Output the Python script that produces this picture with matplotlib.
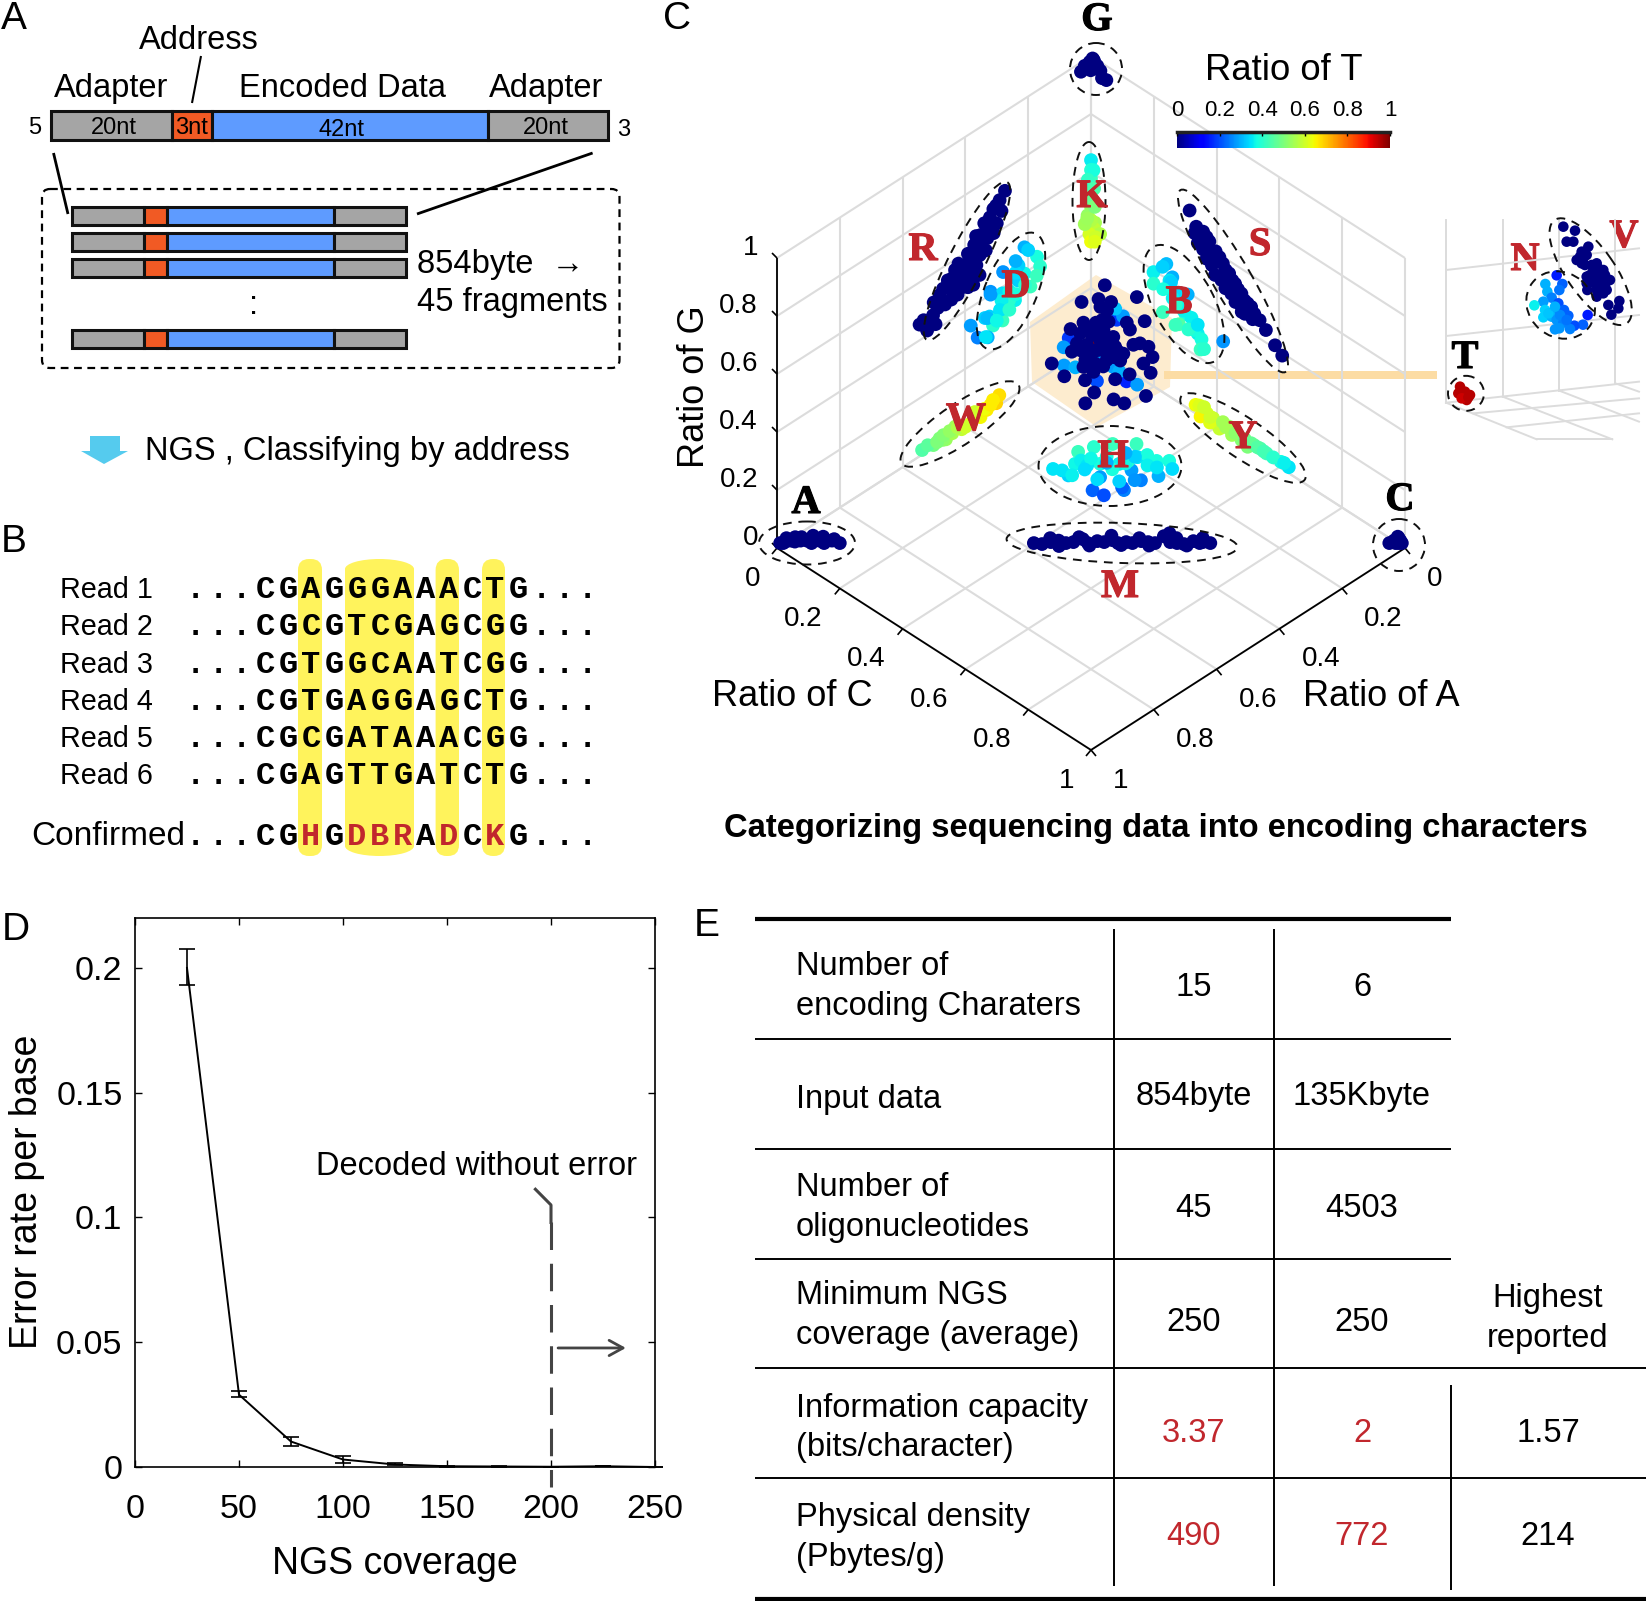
import numpy as np
import matplotlib
matplotlib.use("Agg")
import matplotlib.pyplot as plt
import matplotlib.patheffects as pe
from matplotlib.patches import Ellipse, Polygon, Rectangle, FancyBboxPatch
from matplotlib.cm import ScalarMappable
from matplotlib.colors import Normalize

plt.rcParams["font.family"] = ["Liberation Sans", "DejaVu Sans"]

W, H = 1646, 1601
RED = "#c1272d"
MONO = ["Liberation Mono", "DejaVu Sans Mono"]

# --- PANEL B DATA ---
read_names = ["Read 1", "Read 2", "Read 3", "Read 4", "Read 5", "Read 6"]
reads = ["CGAGGGAAACTG", "CGCGTCGAGCGG", "CGTGGCAATCGG",
         "CGTGAGGAGCTG", "CGCGATAAACGG", "CGAGTTGATCTG"]
confirmed = "CGHGDBRADCKG"
degenerate = "HDBRK"

# --- PANEL D DATA ---
coverage = [25, 50, 75, 100, 125, 150, 175, 200, 225, 250]
error_rate = [0.2, 0.029, 0.0102, 0.003, 0.001, 0.0003, 0.0002, 0.0001, 0.0003, 0.0]
error_low = [0.007, 0.001, 0.0019, 0.0015, 0.0003, 0.0001, 0.0001, 0.0, 0.0, 0.0]
error_high = [0.0076, 0.0015, 0.0018, 0.0015, 0.0005, 0.0001, 0.0003, 0.0, 0.0, 0.0]

# --- PANEL E DATA ---
table_names = [["Number of", "encoding Charaters"], ["Input data"],
               ["Number of", "oligonucleotides"], ["Minimum NGS", "coverage (average)"],
               ["Information capacity", "(bits/character)"], ["Physical density", "(Pbytes/g)"]]
table_col1 = ["15", "854byte", "45", "250", "3.37", "490"]
table_col2 = ["6", "135Kbyte", "4503", "250", "2", "772"]
table_col3 = ["1.57", "214"]

# --- PANEL C DATA: ratio of A, ratio of C, ratio of T for each read (G is the rest) ---
g_a = [0, 0, 0.005, 0.032, 0.015, 0, 0, 0, 0, 0.008, 0.02, 0.005]
g_c = [0.01, 0.007, 0.013, 0, 0.014, 0.03, 0.049, 0.02, 0.005, 0.004, 0, 0.04]

c_a = [0.02, 0, 0, 0, 0.01, 0.01, 0.005, 0]
c_c = [0.97, 0.977, 0.99, 0.98, 0.975, 0.98, 0.985, 0.985]

a_a = [0.99, 0.98, 0.97, 0.965, 0.955, 0.945, 0.94, 0.925, 0.92, 0.905, 0.895,
       0.985, 0.975, 0.96, 0.95, 0.93, 0.915, 0.9]
a_c = [0, 0.007, 0.015, 0.022, 0.03, 0.04, 0.05, 0.06, 0.07, 0.08, 0.095,
       0.005, 0.005, 0.018, 0.028, 0.045, 0.062, 0.082]

m_a = [0.586, 0.574, 0.558, 0.544, 0.535, 0.522, 0.504, 0.5, 0.483, 0.473, 0.458, 0.452, 0.438,
       0.429, 0.413, 0.403, 0.393, 0.36, 0.368, 0.358, 0.348, 0.33, 0.322, 0.316, 0.305,
       0.555, 0.549, 0.508, 0.5, 0.455, 0.449, 0.413, 0.405, 0.372, 0.354, 0.345, 0.312]
m_c = [0.404, 0.418, 0.43, 0.441, 0.455, 0.466, 0.478, 0.49, 0.503, 0.515, 0.526, 0.538, 0.55,
       0.561, 0.573, 0.585, 0.597, 0.61, 0.62, 0.632, 0.644, 0.656, 0.668, 0.672, 0.685,
       0.425, 0.447, 0.47, 0.495, 0.52, 0.545, 0.567, 0.59, 0.604, 0.626, 0.65, 0.668]

w_a = [0.538, 0.502, 0.462, 0.482, 0.442, 0.412, 0.382, 0.352, 0.332, 0.302, 0.292, 0.312, 0.372, 0.432, 0.472,
       0.52, 0.49, 0.47, 0.45, 0.425, 0.4, 0.37, 0.34, 0.32]
w_t = [0.446, 0.49, 0.538, 0.501, 0.551, 0.588, 0.618, 0.648, 0.657, 0.685, 0.674, 0.657, 0.613, 0.545, 0.523,
       0.46, 0.5, 0.51, 0.53, 0.56, 0.6, 0.6, 0.64, 0.66]

y_c = [0.333, 0.369, 0.349, 0.399, 0.409, 0.439, 0.479, 0.519, 0.559, 0.605, 0.63, 0.499, 0.389, 0.539, 0.379, 0.449,
       0.345, 0.36, 0.38, 0.42, 0.43, 0.46, 0.49, 0.51, 0.53, 0.55, 0.58, 0.615]
y_t = [0.638, 0.606, 0.651, 0.59, 0.591, 0.533, 0.511, 0.461, 0.422, 0.373, 0.349, 0.501, 0.589, 0.439, 0.621, 0.545,
       0.62, 0.6, 0.6, 0.55, 0.55, 0.52, 0.49, 0.47, 0.45, 0.43, 0.4, 0.36]

k_a = [0, 0, 0, 0, 0, 0, 0.011, 0, 0, 0, 0.005, 0, 0, 0.02, 0, 0.01, 0, 0.012, 0, 0.012, 0, 0]
k_c = [0, 0, 0, 0, 0, 0, 0, 0.013, 0.009, 0.029, 0, 0, 0, 0, 0.008, 0, 0.01, 0, 0.012, 0, 0.015, 0.012]
k_t = [0.359, 0.393, 0.422, 0.451, 0.485, 0.52, 0.531, 0.553, 0.58, 0.565, 0.606, 0.64, 0.566, 0.546,
       0.38, 0.41, 0.44, 0.47, 0.5, 0.54, 0.6, 0.62]

r_a = [0.274, 0.292, 0.311, 0.325, 0.34, 0.358, 0.378, 0.377, 0.397, 0.42, 0.402, 0.447, 0.429, 0.472, 0.431,
       0.501, 0.484, 0.456, 0.546, 0.515, 0.54, 0.535, 0.366, 0.422, 0.456, 0.434, 0.368, 0.303, 0.34,
       0.3, 0.32, 0.335, 0.35, 0.365, 0.38, 0.395, 0.41, 0.425, 0.44, 0.455, 0.47, 0.485,
       0.36, 0.385, 0.405, 0.43, 0.445, 0.46, 0.33, 0.35, 0.375, 0.4, 0.42, 0.5, 0.52]
r_c = [0, 0.001, 0, 0.003, 0.008, 0.006, 0.006, 0.025, 0.005, 0.008, 0.02, 0.005, 0.017, 0.001, 0.039,
       0, 0.002, 0.013, 0, 0.012, 0.018, 0.002, 0, 0, 0, 0.001, 0.006, 0.001, 0,
       0.015, 0.02, 0.025, 0.02, 0.03, 0.025, 0.03, 0.03, 0.035, 0.03, 0.03, 0.025, 0.02,
       0.012, 0.015, 0.015, 0.018, 0.015, 0.015, 0.012, 0.012, 0.012, 0.045, 0.045, 0.012, 0.025]

s_a = [0, 0.006, 0, 0, 0, 0.001, 0.01, 0.001, 0.002, 0.002, 0.002, 0.002, 0.017, 0, 0, 0.001, 0,
       0, 0, 0.003, 0.003, 0.003, 0.004, 0, 0.006,
       0.015, 0.02, 0.018, 0.022, 0.02, 0.025, 0.02, 0.022, 0.018, 0.02, 0.015, 0.012, 0.01, 0.015, 0.012, 0.02]
s_c = [0.314, 0.341, 0.357, 0.377, 0.397, 0.421, 0.399, 0.441, 0.461, 0.481, 0.501, 0.522, 0.507, 0.537, 0.557, 0.587, 0.609,
       0.368, 0.409, 0.432, 0.453, 0.471, 0.493, 0.51, 0.355,
       0.345, 0.36, 0.375, 0.39, 0.405, 0.42, 0.435, 0.45, 0.465, 0.48, 0.495, 0.51, 0.525, 0.385, 0.44, 0.5]

d_a = [0.212, 0.28, 0.178, 0.177, 0.207, 0.32, 0.275, 0.263, 0.329, 0.299, 0.383, 0.312, 0.286,
       0.393, 0.362, 0.247, 0.282, 0.218, 0.284, 0.231, 0.338, 0.261, 0.186, 0.285, 0.32,
       0.24, 0.26, 0.3, 0.34, 0.22, 0.2, 0.25, 0.31, 0.35, 0.27, 0.24]
d_c = [0, 0, 0.006, 0.015, 0.014, 0, 0.013, 0.021, 0.006, 0.007, 0, 0, 0.004,
       0.032, 0.033, 0.015, 0, 0.006, 0.011, 0, 0, 0, 0.013, 0, 0,
       0, 0, 0.01, 0.01, 0.01, 0, 0.01, 0.01, 0.015, 0.01, 0]
d_t = [0.3, 0.27, 0.38, 0.4, 0.42, 0.27, 0.33, 0.36, 0.33, 0.38, 0.28, 0.4, 0.42,
       0.25, 0.3, 0.33, 0.34, 0.37, 0.37, 0.33, 0.33, 0.4, 0.42, 0.36, 0.28,
       0.34, 0.37, 0.35, 0.31, 0.4, 0.33, 0.38, 0.37, 0.35, 0.4, 0.3]

b_a = [0, 0.014, 0.014, 0.007, 0.003, 0.004, 0, 0, 0.022, 0, 0.015, 0, 0.006, 0, 0, 0, 0.013, 0, 0, 0.002,
       0, 0.005, 0.01, 0, 0.005, 0, 0, 0.005, 0.01, 0, 0]
b_c = [0.24, 0.213, 0.213, 0.266, 0.231, 0.284, 0.308, 0.301, 0.251, 0.28, 0.284, 0.33, 0.346, 0.352,
       0.349, 0.421, 0.303, 0.25, 0.281, 0.331,
       0.25, 0.26, 0.27, 0.29, 0.3, 0.32, 0.27, 0.315, 0.24, 0.34, 0.36]
b_t = [0.31, 0.36, 0.4, 0.3, 0.33, 0.33, 0.3, 0.38, 0.42, 0.45, 0.42, 0.38, 0.36, 0.38, 0.42, 0.27, 0.33, 0.36, 0.34, 0.38,
       0.35, 0.33, 0.36, 0.37, 0.36, 0.36, 0.4, 0.4, 0.38, 0.35, 0.4]

h_a = [0.377, 0.365, 0.331, 0.364, 0.299, 0.275, 0.236, 0.198, 0.321, 0.288, 0.264, 0.23, 0.204, 0.195,
       0.175, 0.19, 0.231, 0.331, 0.274, 0.278, 0.282, 0.374, 0.367, 0.315, 0.324, 0.319, 0.274, 0.234,
       0.3, 0.27, 0.25, 0.35, 0.32, 0.22, 0.29, 0.33, 0.24, 0.3, 0.26, 0.21]
h_c = [0.256, 0.293, 0.28, 0.272, 0.258, 0.284, 0.305, 0.343, 0.289, 0.317, 0.353, 0.379, 0.383, 0.404,
       0.424, 0.449, 0.446, 0.36, 0.403, 0.437, 0.421, 0.379, 0.408, 0.42, 0.423, 0.307, 0.342, 0.353,
       0.3, 0.32, 0.36, 0.29, 0.34, 0.4, 0.38, 0.31, 0.38, 0.35, 0.37, 0.42]
h_t = [0.35, 0.33, 0.37, 0.35, 0.42, 0.4, 0.42, 0.42, 0.36, 0.38, 0.36, 0.35, 0.38, 0.38,
       0.38, 0.34, 0.3, 0.28, 0.28, 0.25, 0.27, 0.22, 0.2, 0.25, 0.22, 0.35, 0.38, 0.4,
       0.37, 0.38, 0.37, 0.36, 0.34, 0.36, 0.33, 0.34, 0.33, 0.3, 0.3, 0.35]

n_a = [0.269, 0.257, 0.275, 0.174, 0.131, 0.124, 0.262, 0.227, 0.178, 0.198, 0.184, 0.214, 0.253, 0.187]
n_c = [0.198, 0.17, 0.189, 0.256, 0.233, 0.201, 0.281, 0.34, 0.325, 0.269, 0.176, 0.243, 0.203, 0.277]
n_t = [0.18, 0.28, 0.28, 0.18, 0.28, 0.32, 0.2, 0.16, 0.28, 0.28, 0.33, 0.28, 0.3, 0.3]

v_a = [0.211, 0.265, 0.235, 0.218, 0.172, 0.24, 0.233, 0.184, 0.283, 0.263, 0.242, 0.214, 0.216, 0.31, 0.299, 0.282,
       0.259, 0.25, 0.257, 0.274, 0.3, 0.331, 0.316, 0.31, 0.29, 0.272, 0.263, 0.226, 0.214, 0.204, 0.208, 0.229,
       0.227, 0.375, 0.368, 0.328, 0.317, 0.339, 0.29, 0.262, 0.337, 0.362, 0.313, 0.3, 0.258, 0.284, 0.27, 0.257,
       0.251, 0.278, 0.318, 0.284, 0.261, 0.251, 0.3145, 0.262, 0.306, 0.296]
v_c = [0.255, 0.235, 0.259, 0.282, 0.318, 0.27, 0.284, 0.355, 0.259, 0.279, 0.298, 0.328, 0.34, 0.245, 0.265, 0.285,
       0.299, 0.321, 0.334, 0.303, 0.287, 0.27, 0.282, 0.302, 0.308, 0.333, 0.356, 0.361, 0.37, 0.387, 0.404, 0.396,
       0.417, 0.25, 0.283, 0.304, 0.325, 0.32, 0.367, 0.385, 0.347, 0.344, 0.385, 0.406, 0.433, 0.334, 0.342, 0.344,
       0.286, 0.276, 0.3, 0.313, 0.327, 0.354, 0.2697, 0.312, 0.319, 0.335]

t_a = [0, 0.005, 0]
t_c = [0.005, 0.005, 0.01]
t_t = [0.98, 0.98, 0.97]

# inset view of N, V and T, read in the inset's own view units
inset_v_x = [400, 435, 410, 430, 475, 455, 470, 440, 455, 500, 490, 470, 520, 510, 540, 495, 480, 525, 472, 500,
             520, 535, 568, 565, 544, 505, 460, 490, 450, 465, 485, 505, 525, 480, 495, 515, 530, 470, 510, 500]
inset_v_y = [80, 92, 125, 125, 140, 155, 165, 180, 190, 190, 210, 230, 210, 235, 240, 250, 225, 255, 270, 290,
             280, 315, 303, 325, 344, 265, 175, 240, 170, 195, 195, 205, 225, 245, 225, 250, 270, 250, 215, 270]
inset_n_x = [380, 397, 346, 352, 388, 365, 340, 385, 313, 345, 370, 402, 340, 365, 415, 380, 400, 473, 459, 433, 420, 375, 388,
             355, 390, 375, 410]
inset_n_y = [226, 252, 252, 275, 270, 293, 305, 310, 316, 330, 335, 330, 352, 350, 347, 360, 368, 345, 374, 377, 387, 388, 385,
             340, 345, 320, 360]
inset_n_t = [0.15, 0.22, 0.3, 0.3, 0.24, 0.25, 0.28, 0.2, 0.36, 0.33, 0.27, 0.22, 0.33, 0.3, 0.22, 0.27, 0.25, 0.15, 0.22, 0.2, 0.25, 0.27, 0.27,
             0.32, 0.26, 0.3, 0.24]
inset_t_x = [90, 85, 100, 120, 110, 92, 105, 95, 115]
inset_t_y = [560, 580, 590, 585, 600, 575, 575, 595, 592]
inset_t_t = [0.95, 0.95, 0.95, 0.95, 0.95, 0.95, 0.95, 0.93, 0.95]

fig = plt.figure(figsize=(W / 100, H / 100), dpi=100)
ax = fig.add_axes([0, 0, 1, 1])
ax.set_xlim(0, W)
ax.set_ylim(H, 0)
ax.axis("off")


def txt(x, y, s, size=23.5, ha="center", va="center", **kw):
    # text sits a little low in the reference, hence the small nudge
    return ax.text(x, y + 2.5, s, fontsize=size, ha=ha, va=va, **kw)


def seg(xs, ys, color="black", lw=1.5, **kw):
    ax.plot(xs, ys, color=color, lw=lw, solid_capstyle="butt", **kw)


# panel letters
for letter, lx, ly in [("A", 14, 16), ("B", 14, 539), ("C", 677, 16), ("D", 16, 927), ("E", 707, 923)]:
    txt(lx, ly, letter, size=28)

# --- PANEL A ---
GRAY, ORANGE, BLUE = "#a5a5a5", "#f15a24", "#5e9bff"


def strand(edges, y0, y1, lw):
    for i, color in enumerate([GRAY, ORANGE, BLUE, GRAY]):
        ax.add_patch(Rectangle((edges[i], y0), edges[i + 1] - edges[i], y1 - y0,
                               fc=color, ec="#111111", lw=lw))


strand([51, 172, 212, 488, 608], 111, 140, 2.2)
for y0 in [207, 233, 259, 330]:
    strand([72, 144, 167.5, 334, 406], y0, y0 + 18, 2.2)
for tx, ty, s in [(114, 125, "20nt"), (192, 125, "3nt"), (342, 127, "42nt"), (546, 125, "20nt"),
                  (34.5, 125, "5"), (624, 127, "3")]:
    txt(tx, ty, s, size=17)
txt(199, 38, "Address")
txt(111, 86, "Adapter")
txt(342, 86, "Encoded Data")
txt(546, 86, "Adapter")
seg([201, 192], [56, 103], lw=1.5)
seg([53.5, 68], [153, 214], lw=2)
seg([592.6, 417], [153, 214], lw=2)
ax.add_patch(FancyBboxPatch((48, 195), 565.5, 167, boxstyle="round,pad=6,rounding_size=8", fc="none",
                            ec="black", lw=1.6, ls=(0, (3.5, 2.5))))
txt(254, 303, ":", size=23.5)
txt(417, 262, "854byte  \u2192", ha="left")
txt(417, 300, "45 fragments", ha="left")
ax.add_patch(Polygon([(90, 436), (120, 436), (120, 451), (128, 451), (104, 464), (81, 451), (90, 451)],
                     fc="#55cbee", ec="none"))
txt(145, 449, "NGS , Classifying by address", ha="left")

# --- PANEL B ---
YELLOW = "#fff35c"
for x0, x1 in [(298, 322), (435.6, 459), (482, 505)]:
    ax.add_patch(FancyBboxPatch((x0 + 11, 570), x1 - x0 - 22, 275, boxstyle="round,pad=11,rounding_size=11",
                                fc=YELLOW, ec="none", zorder=0.5))
ax.add_patch(Rectangle((345, 569), 69, 277, fc=YELLOW, ec="none", zorder=0.5))
ax.add_patch(Ellipse((379.5, 569), 69, 20, fc=YELLOW, ec="none", zorder=0.5))
ax.add_patch(Ellipse((379.5, 846), 69, 20, fc=YELLOW, ec="none", zorder=0.5))

row_y = [587, 624, 662, 699, 736, 773]


def seq_row(y, seq, colored=False):
    for i in range(3):
        txt(195 + 23 * i, y, ".", size=23, family=MONO, weight="bold")
        txt(541 + 23 * i, y, ".", size=23, family=MONO, weight="bold")
    for i, ch in enumerate(seq):
        color = RED if colored and ch in degenerate else "black"
        txt(265 + 23 * i, y, ch, size=23, family=MONO, weight="bold", color=color)


for name, seq, y in zip(read_names, reads, row_y):
    txt(60, y, name, size=20.7, ha="left")
    seq_row(y, seq)
txt(31, 834, "Confirmed", size=24, ha="left")
seq_row(834, confirmed, colored=True)

# --- PANEL C ---
X0, Y_BACK, DX, DY, HG = 1091, 346, 314, 202, 290
GRID = "#dcdcdc"


def project(a, c, g):
    a, c, g = np.asarray(a, float), np.asarray(c, float), np.asarray(g, float)
    return X0 + DX * (c - a), Y_BACK + DY * (a + c) - HG * g


ax.add_patch(Polygon([(1096, 275), (1172, 318), (1170, 387), (1097, 427), (1032, 382), (1030, 322)],
                     fc="#fdeccf", ec="none", zorder=0.6))
ax.add_patch(Rectangle((1164, 371), 273, 7.5, fc="#fcdca4", ec="none", zorder=0.7))

ticks = [0, 0.2, 0.4, 0.6, 0.8, 1]
for v in ticks:
    # floor lines
    seg(*project([v, v], [0, 1], [0, 0]), color=GRID, lw=1.5, zorder=1)
    seg(*project([0, 1], [v, v], [0, 0]), color=GRID, lw=1.5, zorder=1)
    # wall lines
    seg(*project([1, 0, 0], [0, 0, 1], [v, v, v]), color=GRID, lw=1.5, zorder=1)
    seg(*project([v, v], [0, 0], [0, 1]), color=GRID, lw=1.5, zorder=1)
    seg(*project([0, 0], [v, v], [0, 1]), color=GRID, lw=1.5, zorder=1)

seg(*project([1, 1], [0, 0], [0, 1]), lw=1.3, zorder=2)
seg(*project([1, 1], [0, 1], [0, 0]), lw=1.3, zorder=2)
seg(*project([1, 0], [1, 1], [0, 0]), lw=1.3, zorder=2)

tick_labels = ["0", "0.2", "0.4", "0.6", "0.8", "1"]
for v, lab in zip(ticks, tick_labels):
    gx, gy = project(1, 0, v)
    seg([gx, gx - 5], [gy, gy - 5], lw=1.2, zorder=2)
    txt(gx - 19, gy - 13, lab, size=20, ha="right")
    cx, cy = project(1, v, 0)
    seg([cx, cx - 5], [cy, cy + 6], lw=1.2, zorder=2)
    txt(cx - 17, cy + 28, lab, size=20, ha="right")
    rx, ry = project(v, 1, 0)
    seg([rx, rx + 5], [ry, ry + 6], lw=1.2, zorder=2)
    txt(rx + 22, ry + 28, lab, size=20, ha="left")

txt(695, 384, "Ratio of G", size=26, rotation=90)
txt(792, 694, "Ratio of C", size=26)
txt(1381, 694, "Ratio of A", size=26)
txt(1284, 68, "Ratio of T", size=26.3)
txt(1156, 826, "Categorizing sequencing data into encoding characters", size=23.6, weight="bold")

jet_norm = Normalize(0, 1)
DOT = 98


def zeros(n):
    return [0] * n


clusters = [
    (g_a, g_c, zeros(len(g_a))), (c_a, c_c, zeros(len(c_a))), (a_a, a_c, zeros(len(a_a))),
    (m_a, m_c, zeros(len(m_a))), (w_a, zeros(len(w_a)), w_t), (zeros(len(y_c)), y_c, y_t),
    (k_a, k_c, k_t), (r_a, r_c, zeros(len(r_a))), (s_a, s_c, zeros(len(s_a))),
    (d_a, d_c, d_t), (b_a, b_c, b_t), (h_a, h_c, h_t),
    (t_a, t_c, t_t), (n_a, n_c, n_t), (v_a, v_c, zeros(len(v_a))),
]
for i, (ra, rc, rt) in enumerate(clusters):
    rg = 1 - np.asarray(ra, float) - np.asarray(rc, float) - np.asarray(rt, float)
    px, py = project(ra, rc, rg)
    ax.scatter(px, py, c=rt, cmap="jet", norm=jet_norm, s=DOT, linewidths=0, zorder=3 + i * 0.01)

# dashed outlines: centre x, centre y, length, width, angle
outlines = [(1096, 69, 52, 52, 0), (1089, 201, 33, 118, 0), (967, 261, 177, 36, -63), (1011, 291, 125, 52, -67),
            (1233, 281, 210, 38, 60), (1184, 304, 130, 60, 62), (960, 424, 141, 40, -34), (1243, 438, 149, 40, 34),
            (1110, 466, 143, 80, 0), (1122, 543, 231, 40, 2), (807, 543, 96, 43, 0), (1399, 545, 52, 52, 0)]
for ox, oy, ow, oh, oa in outlines:
    ax.add_patch(Ellipse((ox, oy), ow, oh, angle=oa, fc="none", ec="#111111", lw=1.4, ls=(0, (4.5, 3.5)), zorder=4))

# slab letters: a serif face thickened with a thin stroke of its own colour
SERIF = ["Liberation Serif", "DejaVu Serif"]


def slab(lx, ly, s, color):
    t = txt(lx, ly, s, size=29, family=SERIF, weight="bold", color=color, zorder=6)
    t.set_path_effects([pe.withStroke(linewidth=0.8, foreground=color)])


for lx, ly, s in [(1097, 18, "G"), (806, 501, "A"), (1400, 498, "C"), (1465, 356, "T")]:
    slab(lx, ly, s, "black")
for lx, ly, s in [(923, 248, "R"), (1016, 285, "D"), (1092, 195, "K"), (1260, 243, "S"), (1179, 301, "B"),
                  (966, 418, "W"), (1243, 436, "Y"), (1113, 455, "H"), (1120, 585, "M"), (1525, 258, "N"), (1624, 235, "V")]:
    slab(lx, ly, s, RED)

# colour bar
cax = fig.add_axes([1177 / W, 1 - 148 / H, 213 / W, 16 / H])
cb = fig.colorbar(ScalarMappable(norm=jet_norm, cmap="jet"), cax=cax, orientation="horizontal")
cb.set_ticks(ticks, labels=tick_labels)
cb.outline.set_visible(False)
cax.xaxis.set_ticks_position("top")
cax.tick_params(axis="x", length=3, width=1, direction="in", labelsize=16, pad=8)
cax.plot([0, 1], [1, 1], color="#222222", lw=2.5, transform=cax.transAxes, clip_on=False)

# inset view
iax = fig.add_axes([1430 / W, 1 - 450 / H, 216 / W, 250 / H], facecolor="none")
iax.set_xlim(0, 648)
iax.set_ylim(750, 0)
iax.axis("off")
for xs, ys in [([48, 48], [60, 608]), ([218, 218], [60, 590]), ([388, 388], [60, 572]), ([556, 556], [60, 550]),
               ([48, 627], [210, 145]), ([48, 627], [408, 345]), ([48, 627], [608, 545]),
               ([48, 320], [608, 718]), ([218, 547], [590, 718]), ([388, 627], [572, 665]), ([556, 627], [550, 575]),
               ([130, 627], [640, 595]), ([230, 627], [682, 640]), ([320, 547], [718, 718])]:
    iax.plot(xs, ys, color=GRID, lw=1.4, zorder=1)
iax.scatter(inset_n_x, inset_n_y, c=inset_n_t, cmap="jet", norm=jet_norm, s=58, linewidths=0, zorder=2)
iax.scatter(inset_v_x, inset_v_y, c=zeros(len(inset_v_x)), cmap="jet", norm=jet_norm, s=58, linewidths=0, zorder=3)
iax.scatter(inset_t_x, inset_t_y, c=inset_t_t, cmap="jet", norm=jet_norm, s=58, linewidths=0, zorder=3)
for ox, oy, ow, oh, oa in [(108, 580, 36 * 3, 35 * 3, 0), (392, 315, 72 * 3, 64 * 3, 40), (482, 215, 126 * 3, 48 * 3, 55)]:
    iax.add_patch(Ellipse((ox, oy), ow, oh, angle=oa, fc="none", ec="#111111", lw=1.4, ls=(0, (4.5, 3.5)), zorder=4))

# --- PANEL D ---
dax = fig.add_axes([135 / W, 1 - 1467 / H, 520 / W, 549 / H])
dax.errorbar(coverage, error_rate, yerr=[error_low, error_high], color="black", lw=1.4,
             capsize=6, capthick=1.2, elinewidth=1.2, clip_on=False)
dax.set_xlim(0, 250)
dax.set_ylim(0, 0.22)
dax.set_xticks([0, 50, 100, 150, 200, 250])
dax.set_yticks([0, 0.05, 0.1, 0.15, 0.2])
dax.set_yticklabels(["0", "0.05", "0.1", "0.15", "0.2"])
dax.tick_params(direction="in", top=True, right=True, length=5, width=1, labelsize=24.5)
dax.tick_params(axis="x", pad=19.5)
dax.tick_params(axis="y", pad=9)
for sp in dax.spines.values():
    sp.set_linewidth(1.2)
dax.set_xlabel("NGS coverage", fontsize=27)
dax.set_ylabel("Error rate per base", fontsize=27)
dax.xaxis.set_label_coords(0.5, -0.144)
dax.yaxis.set_label_coords(-0.173, 0.502)
ANNOT = "#444444"
dax.plot([192.5, 200, 200], [0.1113, 0.105, 0.098], color=ANNOT, lw=2.2, clip_on=False)
dax.plot([200, 200], [0.098, -0.008], color=ANNOT, lw=2.2, ls=(0, (9, 4.5)), clip_on=False)
dax.annotate("", xy=(236, 0.0477), xytext=(203.4, 0.0477),
             arrowprops=dict(arrowstyle="->,head_length=1.0,head_width=0.55", color=ANNOT, lw=2, shrinkA=0, shrinkB=0))
dax.text(164.3, 0.1205, "Decoded without error", fontsize=23.5, ha="center", va="center")

# --- PANEL E ---
seg([755, 1451], [919, 919], lw=3)
seg([755, 1646], [1599, 1599], lw=3)
for y, x1 in [(1039, 1451), (1148.5, 1451), (1258.5, 1451), (1368, 1646), (1478, 1646)]:
    seg([755, x1], [y, y], lw=1.4)
for x, y0, y1 in [(1114, 929, 1586), (1274, 929, 1586), (1451, 1385, 1590)]:
    seg([x, x], [y0, y1], lw=1.4)

name_y = [[963.5, 1004], [1097], [1185, 1225], [1292.5, 1333], [1406, 1445], [1515, 1555]]
value_y = [985, 1094, 1206, 1320, 1431, 1534]
for lines, ys in zip(table_names, name_y):
    for line, y in zip(lines, ys):
        txt(796, y, line, ha="left")
for i, y in enumerate(value_y):
    color = RED if i >= 4 else "black"
    txt(1194, y, table_col1[i], color=color)
    txt(1362, y, table_col2[i], color=color)
txt(1548, 1296, "Highest")
txt(1548, 1336, "reported")
txt(1548, 1431, table_col3[0])
txt(1548, 1534, table_col3[1])

fig.savefig("out.png", dpi=100)
